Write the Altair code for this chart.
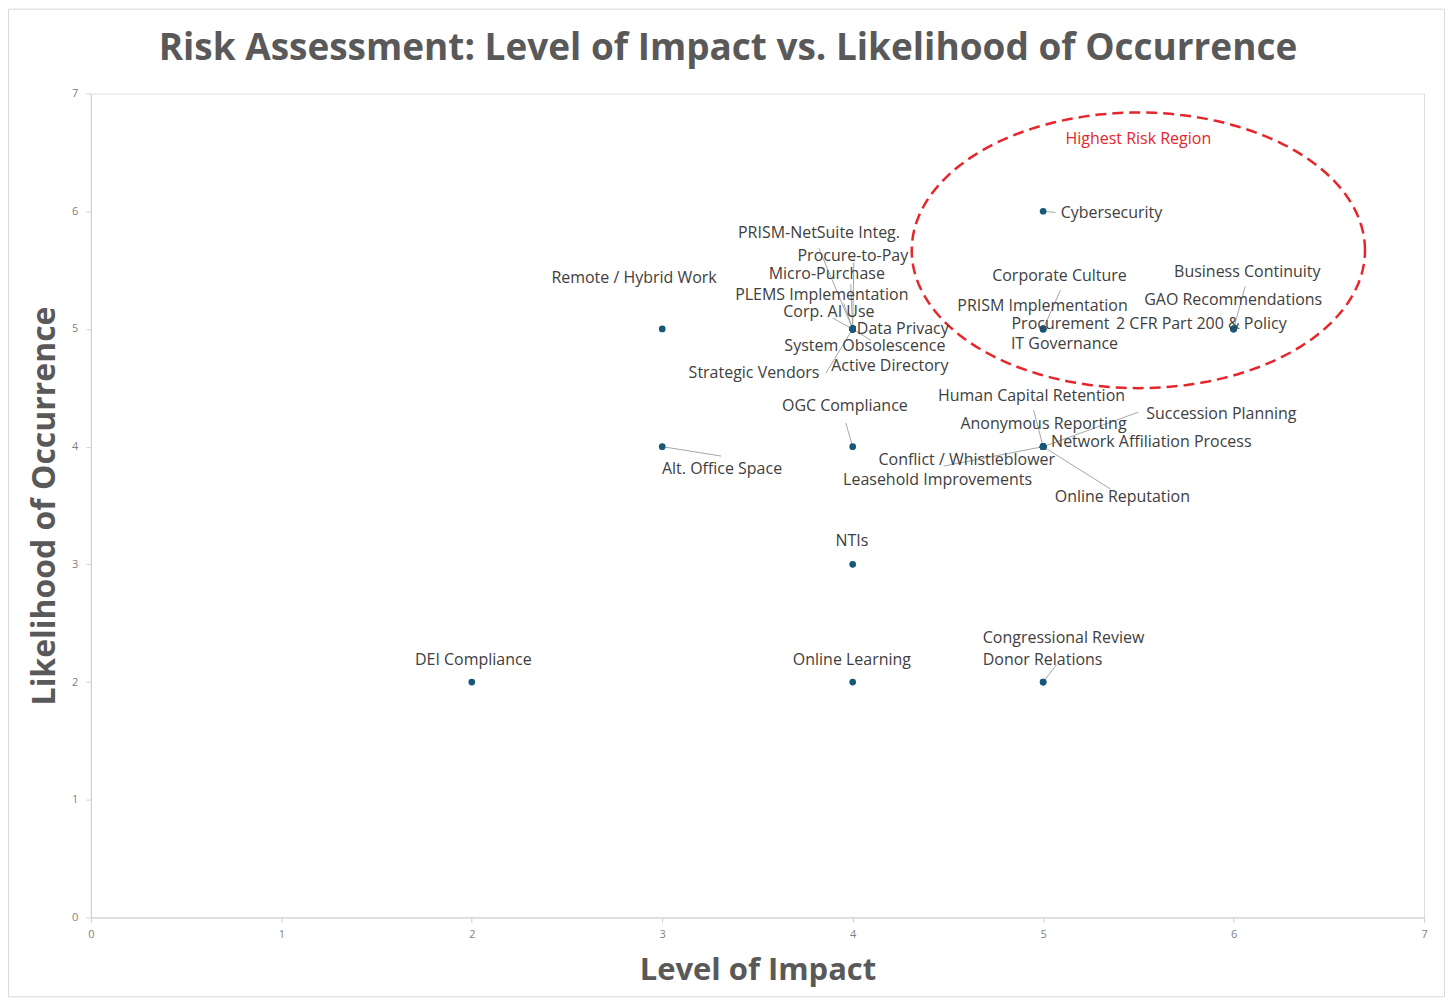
import altair as alt
import pandas as pd
import numpy as np

# ---- data ----
risk_names = [
    "Cybersecurity",
    "Corporate Culture", "PRISM Implementation", "Procurement", "IT Governance",
    "Business Continuity", "GAO Recommendations", "2 CFR Part 200 & Policy",
    "Remote / Hybrid Work",
    "PRISM-NetSuite Integ.", "Procure-to-Pay", "Micro-Purchase", "PLEMS Implementation",
    "Corp. AI Use", "Data Privacy", "System Obsolescence", "Active Directory", "Strategic Vendors",
    "Alt. Office Space", "OGC Compliance",
    "Human Capital Retention", "Anonymous Reporting", "Succession Planning",
    "Network Affiliation Process", "Conflict / Whistleblower", "Leasehold Improvements",
    "Online Reputation",
    "NTIs", "DEI Compliance", "Online Learning", "Congressional Review", "Donor Relations",
]
impact = [5, 5, 5, 5, 5, 6, 6, 6, 3, 4, 4, 4, 4, 4, 4, 4, 4, 4, 3, 4,
          5, 5, 5, 5, 5, 5, 5, 4, 2, 4, 5, 5]
likelihood = [6, 5, 5, 5, 5, 5, 5, 5, 5, 5, 5, 5, 5, 5, 5, 5, 5, 5, 4, 4,
              4, 4, 4, 4, 4, 4, 4, 3, 2, 2, 2, 2]
# label anchor positions (data units), as placed in the reference
label_x = [5.359, 5.086, 4.997, 5.091, 5.112, 6.072, 5.998, 5.831, 2.852,
           3.823, 4.001, 3.864, 3.838, 3.875, 4.263, 4.064, 4.195, 3.482,
           3.314, 3.959, 4.939, 5.002, 5.936, 5.568, 4.599, 4.446, 5.416,
           3.996, 2.008, 3.996, 5.107, 4.997]
label_y = [5.982, 5.447, 5.193, 5.040, 4.870, 5.481, 5.244, 5.040, 5.430,
           5.812, 5.617, 5.464, 5.286, 5.142, 4.998, 4.853, 4.684, 4.624,
           3.810, 4.344, 4.429, 4.192, 4.276, 4.039, 3.886, 3.716, 3.572,
           3.199, 2.189, 2.189, 2.376, 2.189]

# leader lines: risk -> end point near its label
leader_names = ["Cybersecurity", "Corporate Culture", "Business Continuity",
                "PRISM-NetSuite Integ.", "Procure-to-Pay", "Micro-Purchase",
                "PLEMS Implementation", "Corp. AI Use", "System Obsolescence",
                "Strategic Vendors", "Alt. Office Space", "OGC Compliance",
                "Human Capital Retention", "Succession Planning",
                "Conflict / Whistleblower", "Online Reputation", "Donor Relations"]
leader_end_x = [5.065, 5.091, 6.061, 3.823, 4.006, 3.990, 3.953, 3.896, 4.095,
                3.859, 3.309, 3.964, 4.950, 5.500, 4.478, 5.354, 5.070]
leader_end_y = [5.990, 5.329, 5.362, 5.685, 5.566, 5.379, 5.218, 5.091, 4.904,
                4.624, 3.920, 4.200, 4.310, 4.293, 3.835, 3.640, 2.147]

# highlighted region (ellipse annotation)
region_label = "Highest Risk Region"
region_label_pos = (5.50, 6.61)
region_center = (5.50, 5.668)
region_radii = (1.19, 1.171)

title_text = "Risk Assessment: Level of Impact vs. Likelihood of Occurrence"
x_title = "Level of Impact"
y_title = "Likelihood of Occurrence"
axis_ticks = [0, 1, 2, 3, 4, 5, 6, 7]

# ---- tables ----
pts = pd.DataFrame({"risk": risk_names, "impact": impact, "likelihood": likelihood,
                    "lx": label_x, "ly": label_y})
pos = {n: (i, l) for n, i, l in zip(risk_names, impact, likelihood)}
lead = pd.DataFrame({
    "risk": leader_names,
    "x": [pos[n][0] for n in leader_names],
    "y": [pos[n][1] for n in leader_names],
    "x2": leader_end_x, "y2": leader_end_y,
})
t = np.linspace(0, 2 * np.pi, 181)
ell = pd.DataFrame({"order": np.arange(len(t)),
                    "x": region_center[0] + region_radii[0] * np.cos(t),
                    "y": region_center[1] + region_radii[1] * np.sin(t)})
reg = pd.DataFrame({"x": [region_label_pos[0]], "y": [region_label_pos[1]], "t": [region_label]})
ttl = pd.DataFrame({"t": [title_text]})

FONT = "Open Sans"
xs = alt.Scale(domain=[0, 7], nice=False)
ys = alt.Scale(domain=[0, 7], nice=False)

xaxis = alt.Axis(values=axis_ticks, format="d", grid=False, title=x_title, titleFontSize=31,
                 titleFont=FONT, titleFontWeight="bold", titleColor="#595959",
                 titlePadding=16, labelFontSize=11, labelColor="#7f7f7f", labelFont=FONT,
                 labelFlush=False,
                 domainColor="#d0d0d0", tickColor="#d0d0d0", tickSize=5, labelPadding=6)
yaxis = alt.Axis(values=axis_ticks, format="d", grid=False, title=y_title, titleFontSize=32,
                 titleFont=FONT, titleFontWeight="bold", titleColor="#595959",
                 titlePadding=10, labelFontSize=11, labelColor="#7f7f7f", labelFont=FONT,
                 labelFlush=False,
                 domainColor="#d0d0d0", tickColor="#d0d0d0", tickSize=5, labelPadding=8)

border = alt.Chart(pd.DataFrame({"a": [0]})).mark_rect(
    fill=None, stroke="#d9d9d9", strokeWidth=1
).encode(x=alt.value(-82.5), x2=alt.value(1355.5), y=alt.value(-84.5), y2=alt.value(904.5))

title_mark = alt.Chart(ttl).mark_text(
    font=FONT, fontSize=37, fontWeight="bold", color="#595959",
    align="center", baseline="middle"
).encode(x=alt.value(638), y=alt.value(-45), text="t:N")

leaders = alt.Chart(lead).mark_rule(color="#a6a6a6", strokeWidth=1).encode(
    x=alt.X("x:Q", scale=xs, axis=xaxis), y=alt.Y("y:Q", scale=ys, axis=yaxis),
    x2="x2:Q", y2="y2:Q")

ellipse = alt.Chart(ell).mark_line(color="#e5262b", strokeWidth=2.5,
                                   strokeDash=[11, 6]).encode(
    x=alt.X("x:Q", scale=xs), y=alt.Y("y:Q", scale=ys), order="order:Q")

points = alt.Chart(pts).mark_circle(size=45, color="#17587a", opacity=1).encode(
    x=alt.X("impact:Q", scale=xs), y=alt.Y("likelihood:Q", scale=ys))

labels = alt.Chart(pts).mark_text(font=FONT, fontSize=16, color="#404040",
                                  align="center", baseline="middle").encode(
    x=alt.X("lx:Q", scale=xs), y=alt.Y("ly:Q", scale=ys), text="risk:N")

reg_text = alt.Chart(reg).mark_text(font=FONT, fontSize=16, color="#e5262b",
                                    align="center", baseline="middle").encode(
    x=alt.X("x:Q", scale=xs), y=alt.Y("y:Q", scale=ys), text="t:N")

chart = alt.layer(border, title_mark, leaders, ellipse, points, labels, reg_text).properties(
    width=1335, height=825,
    autosize=alt.AutoSizeParams(type="none"),
    padding={"left": 83, "top": 85, "right": 21, "bottom": 80},
).configure_view(stroke=None).configure(background="white")

chart.save("out.html", embed_options={"renderer": "svg", "actions": False})
